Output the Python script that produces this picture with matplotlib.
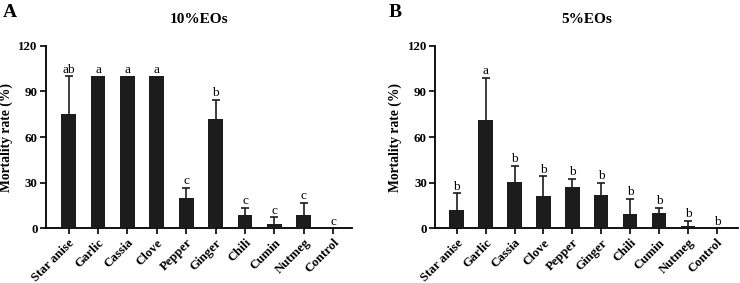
import matplotlib
matplotlib.use("Agg")
import matplotlib.pyplot as plt
import numpy as np

categories = ["Star anise", "Garlic", "Cassia", "Clove", "Pepper", "Ginger",
              "Chili", "Cumin", "Nutmeg", "Control"]

# Panel A: 10% EOs
mean_10 = [75, 100, 100, 100, 20, 72, 9, 2.5, 9, 0]
sd_10 = [25, 0, 0, 0, 6.7, 12.5, 4.5, 4.6, 7.8, 0]
letters_10 = ["ab", "a", "a", "a", "c", "b", "c", "c", "c", "c"]

# Panel B: 5% EOs
mean_5 = [11.7, 71.5, 30.5, 21.3, 27.2, 22.2, 9.2, 10.1, 1.6, 0]
sd_5 = [11.5, 27.4, 10.5, 13.0, 5.4, 7.7, 10.2, 3.4, 3.4, 0]
letters_5 = ["b", "a", "b", "b", "b", "b", "b", "b", "b", "b"]

titles = ["10%EOs", "5%EOs"]
panel_labels = ["A", "B"]
yticks = [0, 30, 60, 90, 120]

plt.rcParams['font.family'] = ['Liberation Serif', 'DejaVu Serif']

fig = plt.figure(figsize=(7.4, 2.83), dpi=100)
W, H = 740, 283
BAR = "#1c1c1c"

def add_panel(left_px, right_px, xlim, means, sds, letters, title, plabel, plabel_x):
    ax = fig.add_axes([left_px / W, (H - 228.3) / H,
                       (right_px - left_px) / W, (228.3 - 45.7) / H])
    x = np.arange(len(categories))
    means = np.asarray(means, float)
    sds = np.asarray(sds, float)
    ax.bar(x, means, width=0.5, color=BAR, zorder=3)
    has = sds > 0
    ax.errorbar(x[has], means[has], yerr=sds[has], fmt="none",
                ecolor=BAR, elinewidth=1.2, capsize=3.2, capthick=1.2, zorder=2)
    for xi, m, s, lab in zip(x, means, sds, letters):
        ax.annotate(lab, (xi, m + s), xytext=(0, 2.5), textcoords="offset points",
                    ha="center", va="baseline", fontsize=9.5, zorder=4)
    ax.set_xlim(*xlim)
    ax.set_ylim(0, 120)
    ax.set_yticks(yticks)
    ax.set_yticklabels([str(t) for t in yticks], fontsize=9.3, fontweight="bold")
    ax.set_xticks(x)
    ax.set_xticklabels(categories, rotation=45, ha="right", rotation_mode="anchor",
                       fontsize=9.3, fontweight="bold")
    for s in ["top", "right"]:
        ax.spines[s].set_visible(False)
    for s in ["left", "bottom"]:
        ax.spines[s].set_linewidth(1.3)
    ax.tick_params(axis="both", direction="out", width=1.2, length=4, pad=2)
    ax.set_ylabel("Mortality rate (%)", fontsize=9.8, fontweight="bold", labelpad=4)
    ax.set_title(title, fontsize=11, fontweight="bold", pad=16)
    fig.text(plabel_x / W, 1 - 4 / H, plabel, fontsize=14, fontweight="bold",
             ha="left", va="top")
    return ax

add_panel(46, 352, (-0.77, 9.64), mean_10, sd_10, letters_10, titles[0], panel_labels[0], 3)
add_panel(435.3, 738, (-0.74, 9.73), mean_5, sd_5, letters_5, titles[1], panel_labels[1], 389)

fig.savefig("out.png", dpi=100)
